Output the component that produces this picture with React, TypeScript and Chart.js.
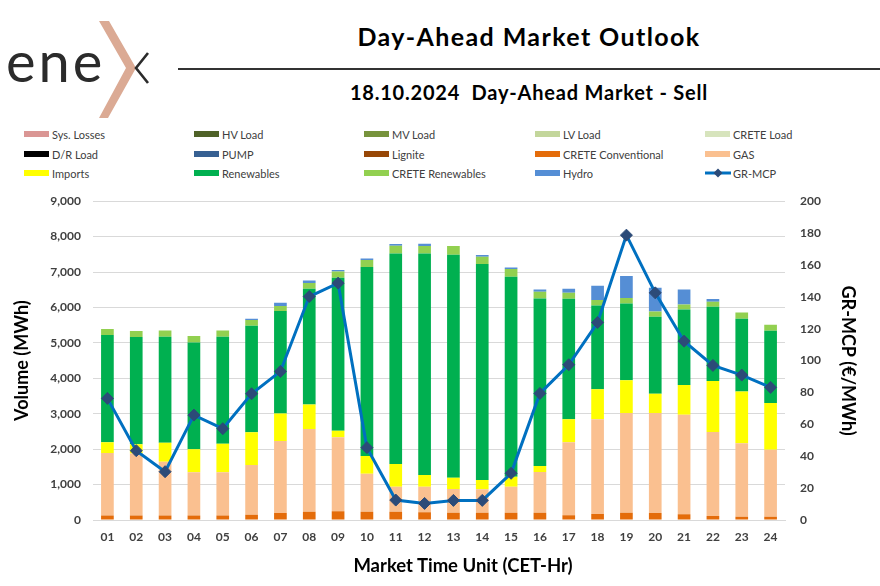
import React, { useEffect, useRef } from 'react';
import { Chart, registerables } from 'chart.js';

Chart.register(...registerables);

// ---------- data ----------
const hours = ['01', '02', '03', '04', '05', '06', '07', '08', '09', '10', '11', '12',
  '13', '14', '15', '16', '17', '18', '19', '20', '21', '22', '23', '24'];

const zeroSeries = [0, 0, 0, 0, 0, 0, 0, 0, 0, 0, 0, 0, 0, 0, 0, 0, 0, 0, 0, 0, 0, 0, 0, 0];
const sysLosses = zeroSeries;
const hvLoad = zeroSeries;
const mvLoad = zeroSeries;
const lvLoad = zeroSeries;
const creteLoad = zeroSeries;
const drLoad = zeroSeries;
const pump = zeroSeries;
const lignite = zeroSeries;
const creteConventional = [130, 130, 130, 130, 130, 150, 198, 235, 245, 235, 235, 216, 207, 207, 207, 207, 132, 169, 207, 198, 160, 113, 94, 94];
const gas = [1760, 1750, 1516, 1215, 1215, 1402, 2032, 2333, 2088, 1073, 706, 725, 668, 658, 734, 1148, 2060, 2672, 2813, 2822, 2813, 2371, 2070, 1891];
const imports = [302, 255, 537, 649, 809, 922, 780, 696, 188, 498, 639, 329, 320, 264, 282, 169, 649, 847, 922, 545, 837, 1439, 1467, 1317];
const renewables = [3029, 3030, 2991, 3020, 3020, 3011, 2888, 3265, 4318, 5334, 5946, 6256, 6293, 6096, 5644, 4732, 3406, 2370, 2173, 2174, 2135, 2098, 2051, 2041];
const creteRenewables = [169, 169, 179, 179, 179, 159, 141, 160, 179, 198, 216, 207, 245, 207, 217, 188, 169, 151, 150, 150, 142, 141, 179, 170];
const hydro = [0, 0, 0, 0, 0, 38, 95, 75, 37, 47, 47, 66, 0, 47, 47, 66, 113, 404, 621, 668, 423, 75, 0, 0];
const grMcp = [76.3, 43.5, 30.3, 65.8, 57.3, 79.2, 93.2, 140.2, 148.6, 45.4, 12.5, 10.4, 12.3, 12.3, 29.3, 79.4, 97.4, 123.9, 178.7, 142.5, 112.2, 97.0, 90.9, 83.2];

const volumeTicksMax = 9000;
const priceTicksMax = 200;

const barSeries = [
  { label: 'Sys. Losses', data: sysLosses, color: '#DA9694' },
  { label: 'HV Load', data: hvLoad, color: '#4F6228' },
  { label: 'MV Load', data: mvLoad, color: '#77933C' },
  { label: 'LV Load', data: lvLoad, color: '#C3D69B' },
  { label: 'CRETE Load', data: creteLoad, color: '#D7E4BD' },
  { label: 'D/R Load', data: drLoad, color: '#000000' },
  { label: 'PUMP', data: pump, color: '#376092' },
  { label: 'Lignite', data: lignite, color: '#974706' },
  { label: 'CRETE Conventional', data: creteConventional, color: '#E46C0A' },
  { label: 'GAS', data: gas, color: '#FAC090' },
  { label: 'Imports', data: imports, color: '#FFFF00' },
  { label: 'Renewables', data: renewables, color: '#00B050' },
  { label: 'CRETE Renewables', data: creteRenewables, color: '#92D050' },
  { label: 'Hydro', data: hydro, color: '#558ED5' },
];

const lineSeries = { label: 'GR-MCP', data: grMcp, color: '#0070C0', marker: '#2C4B78' };

const FONT = 'Lato, "DejaVu Sans", sans-serif';

function LegendItem({ label, color, isLine, left, top }: any) {
  return (
    <div style={{ position: 'absolute', left, top: top - 8, height: 16, display: 'flex', alignItems: 'center' }}>
      {isLine ? (
        <svg width={27} height={12} style={{ display: 'block' }}>
          <line x1={0} y1={6} x2={26} y2={6} stroke={lineSeries.color} strokeWidth={3} />
          <polygon points="13,1.5 17.5,6 13,10.5 8.5,6" fill={lineSeries.marker} />
        </svg>
      ) : (
        <div style={{ width: 25, height: 6, background: color, marginRight: 2 }} />
      )}
      <span style={{ fontFamily: FONT, fontSize: 11, color: '#404040', marginLeft: 1, whiteSpace: 'nowrap' }}>{label}</span>
    </div>
  );
}

export default function App() {
  const canvasRef = useRef<HTMLCanvasElement>(null);

  useEffect(() => {
    const canvas = canvasRef.current;
    if (!canvas) return;
    const tickFont = { family: FONT, size: 12, weight: 'bold' as const };
    const titleFont = { family: FONT, size: 18, weight: 'bold' as const };
    const chart = new Chart(canvas, {
      type: 'bar',
      data: {
        labels: hours,
        datasets: [
          {
            type: 'line' as const,
            label: lineSeries.label,
            data: lineSeries.data,
            yAxisID: 'y1',
            borderColor: lineSeries.color,
            backgroundColor: lineSeries.marker,
            borderWidth: 3,
            pointStyle: 'rectRot',
            pointRadius: 6,
            pointBackgroundColor: lineSeries.marker,
            pointBorderColor: lineSeries.marker,
            pointBorderWidth: 1,
            tension: 0,
            order: 0,
          } as any,
          ...barSeries.map((s) => ({
            type: 'bar' as const,
            label: s.label,
            data: s.data,
            backgroundColor: s.color,
            borderWidth: 0,
            yAxisID: 'y',
            stack: 'sell',
            order: 1,
            barPercentage: 0.44,
            categoryPercentage: 1,
          })),
        ],
      },
      options: {
        responsive: false,
        animation: false,
        layout: { padding: { top: 0, left: 0, right: 0, bottom: 0 } },
        plugins: {
          legend: { display: false },
          tooltip: { enabled: false },
          title: { display: false },
        },
        scales: {
          x: {
            stacked: true,
            grid: { display: false, drawTicks: false },
            border: { display: true, color: '#D9D9D9', width: 1 },
            ticks: { font: tickFont, color: '#404040', padding: 10, maxRotation: 0, autoSkip: false },
            afterFit: (scale: any) => { scale.height = 66; },
          },
          y: {
            stacked: true,
            position: 'left',
            min: 0,
            max: volumeTicksMax,
            grid: { color: '#D9D9D9', lineWidth: 1, drawTicks: false },
            border: { display: false },
            ticks: {
              stepSize: 1000,
              font: tickFont,
              color: '#404040',
              padding: 12,
              callback: (v: any) => Number(v).toLocaleString('en-US'),
            },
            title: { display: true, text: 'Volume (MWh)', font: titleFont, color: '#000000', padding: { top: 11, bottom: 0 } },
            afterFit: (scale: any) => { scale.width = 93; },
          },
          y1: {
            position: 'right',
            min: 0,
            max: priceTicksMax,
            grid: { display: false, drawTicks: false },
            border: { display: false },
            ticks: { stepSize: 20, font: tickFont, color: '#404040', padding: 15 },
            title: { display: true, text: 'GR-MCP (€/MWh)', font: titleFont, color: '#000000', padding: { top: 21, bottom: 0 } },
            afterFit: (scale: any) => { scale.width = 95; },
          },
        },
      },
    });
    return () => chart.destroy();
  }, []);

  const legendItems = [
    ...barSeries.map((s) => ({ label: s.label, color: s.color, isLine: false })),
    { label: lineSeries.label, color: lineSeries.color, isLine: true },
  ];
  const colX = [24, 194, 364, 535, 705];
  const rowY = [134, 154, 173];

  return (
    <div style={{ position: 'absolute', left: 0, top: 0, width: 880, height: 586, background: '#ffffff', overflow: 'hidden' }}>
      {/* logo */}
      <svg width={170} height={125} style={{ position: 'absolute', left: 0, top: 0 }}>
        <text x={6} y={82} fontFamily={FONT} fontWeight={400} fontSize={56} fill="#2B2B2B" letterSpacing={3}>ene</text>
        <polygon points="99,21 109,21 136,68 108,118 99,118 126,68" fill="#DBAA94" />
        <polyline points="148,53 136,68 148,83" fill="none" stroke="#2B2B2B" strokeWidth={2.6} />
      </svg>
      {/* titles */}
      <div style={{ position: 'absolute', left: 179, width: 700, top: 24, textAlign: 'center', fontFamily: FONT, fontWeight: 700, fontSize: 25, lineHeight: '25px', letterSpacing: '1.4px', color: '#000' }}>
        Day-Ahead Market Outlook
      </div>
      <div style={{ position: 'absolute', left: 178, top: 68, width: 702, height: 1.5, background: '#333' }} />
      <div style={{ position: 'absolute', left: 179, width: 700, top: 82, textAlign: 'center', fontFamily: FONT, fontWeight: 700, fontSize: 20, lineHeight: '20px', letterSpacing: '0.8px', color: '#000', whiteSpace: 'pre' }}>
        {'18.10.2024  Day-Ahead Market - Sell'}
      </div>
      {/* legend */}
      {legendItems.map((it, i) => (
        <LegendItem key={it.label} label={it.label} color={it.color} isLine={it.isLine}
          left={colX[i % 5]} top={rowY[Math.floor(i / 5)]} />
      ))}
      {/* chart */}
      <canvas ref={canvasRef} width={880} height={407} style={{ position: 'absolute', left: 0, top: 179, width: 880, height: 407 }} />
      {/* x-axis title */}
      <div style={{ position: 'absolute', left: 263, width: 400, top: 554, textAlign: 'center', fontFamily: FONT, fontWeight: 700, fontSize: 18.5, lineHeight: '22px', color: '#000' }}>
        Market Time Unit (CET-Hr)
      </div>
    </div>
  );
}
